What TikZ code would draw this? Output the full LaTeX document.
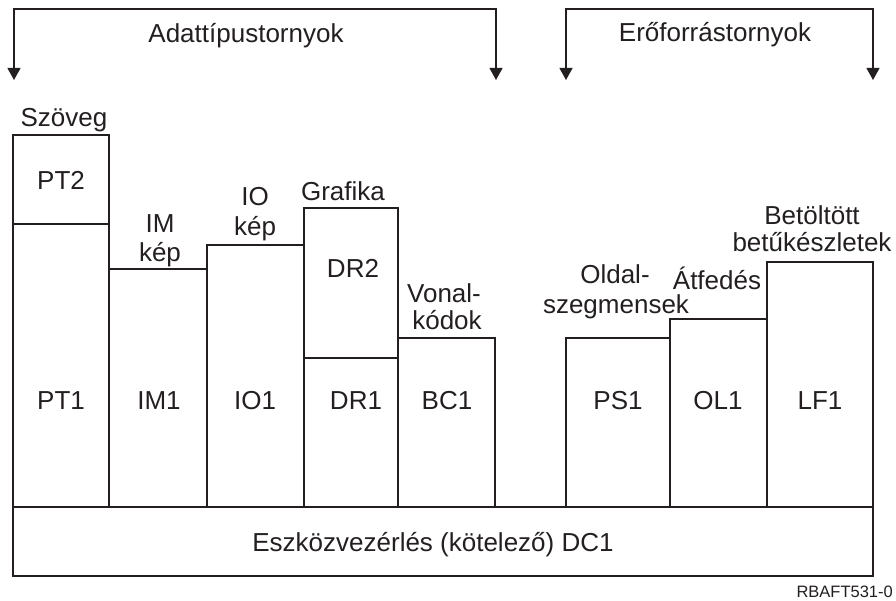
\documentclass[tikz,border=0pt]{standalone}
\usepackage{fontspec}
\setmainfont{Liberation Sans}
\usetikzlibrary{arrows.meta}
\definecolor{ink}{HTML}{231F20}
\begin{document}
\begin{tikzpicture}[x=1pt,y=-1pt,
  box/.style={draw=ink, line width=1.3pt, inner sep=0pt, outer sep=0pt, anchor=north west},
  lbl/.style={font=\fontsize{26}{29}\selectfont, text=ink, inner sep=0pt, anchor=base},
  tag/.style={font=\fontsize{16.5}{18}\selectfont, text=ink, inner sep=0pt, anchor=base east},
  bracket/.style={draw=ink, line width=1.1pt, {Triangle[length=12pt,width=13pt]}-{Triangle[length=12pt,width=13pt]}}]
\useasboundingbox (0,0) rectangle (896,601);

% towers
\node[box, minimum width=96pt, minimum height=89pt]  (pt2) at (13,135) {};
\node[box, minimum width=96pt, minimum height=283pt] (pt1) at (13,224) {};
\node[box, minimum width=98pt, minimum height=238pt] (im1) at (109,269) {};
\node[box, minimum width=97pt, minimum height=262pt] (io1) at (207,245) {};
\node[box, minimum width=94pt, minimum height=150pt] (dr2) at (304,208) {};
\node[box, minimum width=94pt, minimum height=149pt] (dr1) at (304,358) {};
\node[box, minimum width=97pt, minimum height=169pt] (bc1) at (398,338) {};
\node[box, minimum width=104pt, minimum height=169pt] (ps1) at (566,338) {};
\node[box, minimum width=97pt, minimum height=188pt] (ol1) at (670,319) {};
\node[box, minimum width=106pt, minimum height=245pt] (lf1) at (767,262) {};
\node[box, minimum width=860pt, minimum height=69pt] (dc1) at (13,507) {};

% group brackets
\coordinate (dtL) at (14,80);
\coordinate (dtLc) at (14,9);
\coordinate (dtRc) at (496,9);
\coordinate (dtR) at (496,80);
\draw[bracket] (dtL) -- (dtLc) -- (dtRc) -- (dtR);
\coordinate (rsL) at (566,80);
\coordinate (rsLc) at (566,9);
\coordinate (rsRc) at (873,9);
\coordinate (rsR) at (873,80);
\draw[bracket] (rsL) -- (rsLc) -- (rsRc) -- (rsR);

% headings
\node[lbl] (hdData) at (246,43) {Adattípustornyok};
\node[lbl] (hdRes) at (715,42) {Erőforrástornyok};

% captions above towers
\node[lbl] (capPT) at (64,127) {Szöveg};
\node[lbl] (capIMa) at (160,233) {IM};
\node[lbl] (capIMb) at (160,262) {kép};
\node[lbl] (capIOa) at (255,206) {IO};
\node[lbl] (capIOb) at (255,236) {kép};
\node[lbl] (capDR) at (343,201) {Grafika};
\node[lbl] (capBCa) at (444,303) {Vonal-};
\node[lbl] (capBCb) at (447,330) {kódok};
\node[lbl] (capPSa) at (615,284) {Oldal-};
\node[lbl] (capPSb) at (616,313) {szegmensek};
\node[lbl] (capOL) at (717,290) {Átfedés};
\node[lbl] (capLFa) at (812,225) {Betöltött};
\node[lbl] (capLFb) at (812,252) {betűkészletek};

% names inside towers
\node[lbl] (tPT2) at (61,190) {PT2};
\node[lbl] (tDR2) at (353,278) {DR2};
\node[lbl] (tPT1) at (61,409) {PT1};
\node[lbl] (tIM1) at (159,409) {IM1};
\node[lbl] (tIO1) at (255,409) {IO1};
\node[lbl] (tDR1) at (356,409) {DR1};
\node[lbl] (tBC1) at (447,409) {BC1};
\node[lbl] (tPS1) at (618,409) {PS1};
\node[lbl] (tOL1) at (718,409) {OL1};
\node[lbl] (tLF1) at (820,409) {LF1};
\node[lbl] (tDC1) at (433,551) {Eszközvezérlés (kötelező) DC1};

\node[tag] (fig) at (893,597) {RBAFT531-0};
\end{tikzpicture}
\end{document}
